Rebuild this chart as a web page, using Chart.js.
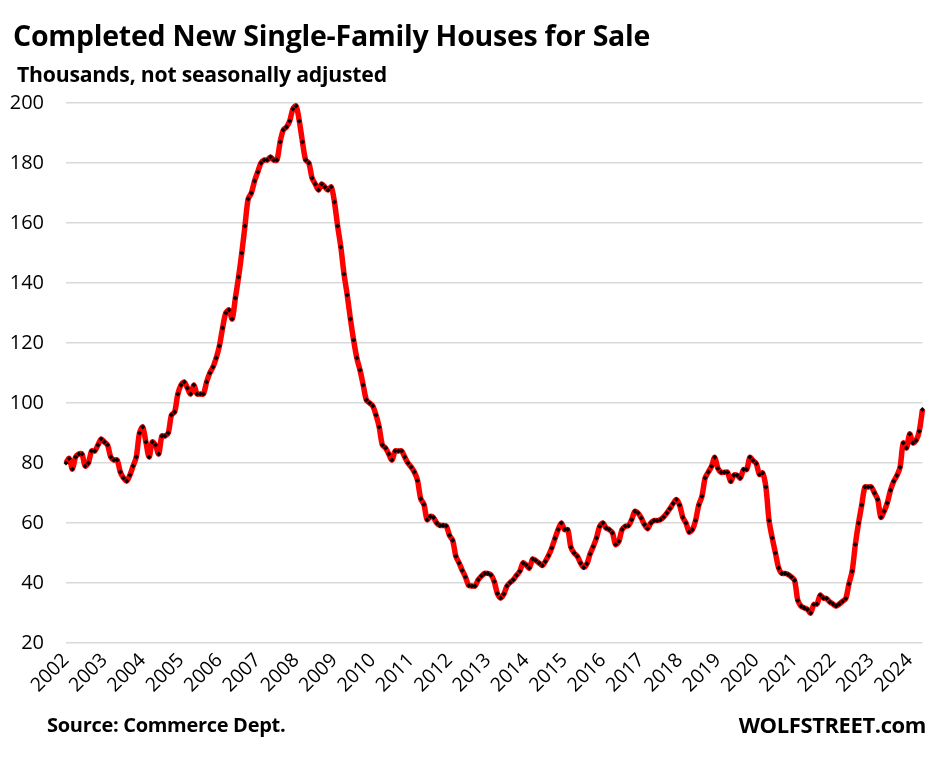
<!DOCTYPE html>
<html>
<head>
<meta charset="utf-8">
<script src="https://cdn.jsdelivr.net/npm/chart.js@4.4.1/dist/chart.umd.min.js"></script>
<style>
  body { margin: 0; background: #fff; }
  #wrap { position: relative; width: 945px; height: 760px; font-family: "Open Sans", sans-serif; color: #000; }
  #chart { position: absolute; left: 0; top: 0; }
  .txt { position: absolute; white-space: nowrap; font-weight: bold; line-height: 1; }
  #title { left: 13px; top: 21px; font-size: 28.5px; letter-spacing: -0.25px; }
  #subtitle { left: 17px; top: 63px; font-size: 21.2px; letter-spacing: -0.2px; }
  #source { left: 47px; top: 715px; font-size: 20px; letter-spacing: -0.3px; }
  #brand { right: 19px; top: 713px; font-size: 22px; letter-spacing: -0.4px; }
</style>
</head>
<body>
<div id="wrap">
  <canvas id="chart" width="945" height="760"></canvas>
  <div class="txt" id="title">Completed New Single-Family Houses for Sale</div>
  <div class="txt" id="subtitle">Thousands, not seasonally adjusted</div>
  <div class="txt" id="source">Source: Commerce Dept.</div>
  <div class="txt" id="brand">WOLFSTREET.com</div>
</div>
<script>
const years = ["2002", "2003", "2004", "2005", "2006", "2007", "2008", "2009", "2010", "2011", "2012",
  "2013", "2014", "2015", "2016", "2017", "2018", "2019", "2020", "2021", "2022", "2023", "2024"];

// monthly, thousands (Jan..Dec)
const v2002 = [80, 81.5, 78, 82, 83, 83, 79, 80, 84, 84, 86, 88];
const v2003 = [87, 86, 82, 81, 81, 77, 75, 74, 76, 79, 82, 90];
const v2004 = [92, 87, 82, 87, 86, 83, 89, 89, 90, 96, 97, 103];
const v2005 = [106, 107, 105, 103, 106, 103, 103, 103, 107, 110, 112, 115];
const v2006 = [119, 125, 130, 131, 128, 135, 142, 150, 159, 168, 170, 174];
const v2007 = [177, 180, 181, 181, 182, 181, 181, 187, 191, 192, 194, 198];
const v2008 = [199, 194, 187, 181, 180, 175, 173, 171, 173, 172, 171, 172];
const v2009 = [167, 159, 152, 143, 136, 128, 121, 115, 111, 106, 101, 100];
const v2010 = [99, 96, 92, 86, 85, 83, 81, 84, 84, 84, 82, 80];
const v2011 = [78.7, 77, 74.2, 68.1, 66.2, 61.1, 62.2, 61.8, 60, 59.2, 59.2, 59];
const v2012 = [55.9, 54.2, 48.9, 46.7, 44.2, 42, 39.2, 39, 39, 41.1, 42.3, 43.2];
const v2013 = [43.2, 42.7, 40.5, 36.5, 35, 36.3, 39, 40.2, 41.1, 42.6, 43.9, 46.7];
const v2014 = [46, 45, 48, 47.5, 46.7, 45.8, 47.2, 49.2, 51.7, 54.8, 57.8, 60];
const v2015 = [57.8, 57.8, 51.9, 50, 48.9, 46.7, 45.2, 46.4, 49.7, 52.2, 55, 58.9];
const v2016 = [60, 58.3, 57.8, 56.7, 52.8, 53.9, 57.8, 58.9, 59.1, 61.1, 63.9, 63.3];
const v2017 = [61.7, 59.5, 58.1, 60, 60.8, 60.8, 61.1, 62, 63.3, 64.8, 66.5, 67.8];
const v2018 = [66, 61.9, 60, 57, 57.8, 60.8, 66, 68.9, 75, 77, 78.9, 81.9];
const v2019 = [78.2, 76.9, 76.9, 76.9, 73.9, 75.9, 75.9, 75, 77.8, 77.8, 81.9, 80.8];
const v2020 = [79.8, 76.2, 76.7, 72, 60.8, 55, 50, 45, 43.2, 43.2, 42.8, 42];
const v2021 = [40.8, 34.2, 32.3, 31.7, 31.2, 30, 32.8, 33, 35.9, 35, 34.8, 33.7];
const v2022 = [33, 32.3, 33, 33.9, 34.8, 39.7, 43.9, 52.8, 60, 66, 72, 72];
const v2023 = [72, 70, 67.8, 61.9, 63.9, 66.7, 70.9, 73.9, 75.8, 78.6, 86.7, 85];
const v2024 = [89.7, 86.7, 87.5, 90.6, 97.8];

const yTicks = [20, 40, 60, 80, 100, 120, 140, 160, 180, 200];

const values = [].concat(v2002, v2003, v2004, v2005, v2006, v2007, v2008, v2009, v2010, v2011,
  v2012, v2013, v2014, v2015, v2016, v2017, v2018, v2019, v2020, v2021, v2022, v2023, v2024);
const labels = values.map((v, i) => years[Math.floor(i / 12)] + "-" + (i % 12 + 1));

const ctx = document.getElementById("chart");

const chart = new Chart(ctx, {
  type: "line",
  data: {
    labels: labels,
    datasets: [
      {
        data: values,
        borderColor: "#ff0000",
        borderWidth: 5.5,
        tension: 0.3,
        pointStyle: "rectRot",
        pointRadius: 2.5,
        pointBackgroundColor: "#000",
        pointBorderWidth: 0,
        fill: false,
      },
    ],
  },
  options: {
    responsive: false,
    animation: false,
    devicePixelRatio: 1,
    layout: { padding: { left: 0, right: 12, top: 103, bottom: 0 } },
    plugins: {
      legend: { display: false },
      tooltip: { enabled: false },
    },
    scales: {
      x: {
        offset: false,
        grid: { display: false, drawTicks: false },
        border: { display: false },
        afterFit: (s) => { s.height = 117; },
        ticks: {
          autoSkip: false,
          maxRotation: 45,
          minRotation: 45,
          padding: 6,
          color: "#000",
          font: { family: "Open Sans", size: 19.5 },
          callback: (val, idx) => (idx % 12 === 0 ? years[idx / 12] : ""),
        },
      },
      y: {
        min: yTicks[0],
        max: yTicks[yTicks.length - 1],
        afterFit: (s) => { s.width = 66; },
        afterBuildTicks: (s) => { s.ticks = yTicks.map((v) => ({ value: v })); },
        grid: { color: "#d9d9d9", lineWidth: 1.6, drawTicks: false },
        border: { display: false },
        ticks: {
          padding: 22,
          color: "#000",
          font: { family: "Open Sans", size: 20 },
        },
      },
    },
  },
});
</script>
</body>
</html>
